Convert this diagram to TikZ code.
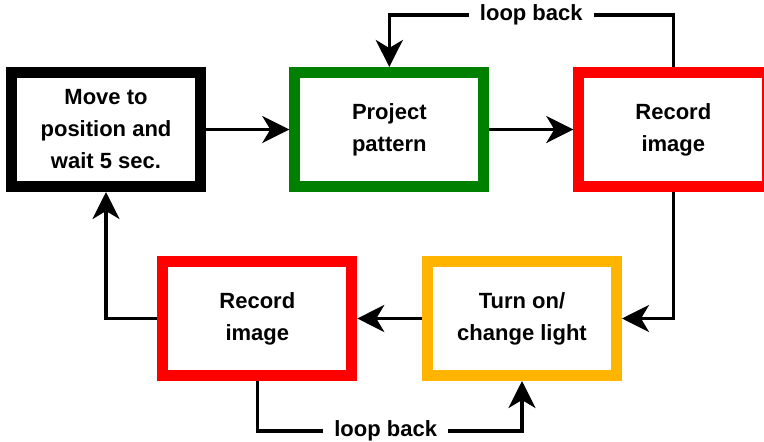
\documentclass[tikz,border=0pt]{standalone}
\usepackage{fontspec}
\setmainfont{Liberation Sans}
\usetikzlibrary{arrows.meta}
\definecolor{boxgreen}{RGB}{0,128,0}
\definecolor{boxred}{RGB}{255,0,0}
\definecolor{boxorange}{RGB}{255,181,0}
\tikzset{
  stepbox/.style={draw=#1, line width=11pt, fill=white, minimum width=189pt,
    minimum height=114pt, align=center, inner sep=0pt,
    font=\fontsize{22}{32}\selectfont\bfseries},
  flow/.style={line width=3.5pt, -{Stealth[length=27pt,width=27pt,inset=8pt]}},
  looplabel/.style={fill=white, inner xsep=11pt, inner ysep=2pt,
    font=\fontsize{22}{26}\selectfont\bfseries}
}
\begin{document}
\begin{tikzpicture}[x=1pt,y=-1pt]
\useasboundingbox (0,0) rectangle (764,442);
\clip (0,0) rectangle (764,442);

% process steps
\node[stepbox=black]     (move)    at (106,129.5)   {Move to\\position and\\wait 5 sec.};
\node[stepbox=boxgreen]  (project) at (389.3,129.5) {Project\\pattern};
\node[stepbox=boxred]    (rec1)    at (673.3,129.5) {Record\\image};
\node[stepbox=boxorange] (light)   at (522,318.5)   {Turn on/\\change light};
\node[stepbox=boxred]    (rec2)    at (257.3,318.5) {Record\\image};

% connectors
\draw[flow] (move.east) -- (project.west);
\draw[flow] (project.east) -- (rec1.west);
\draw[flow] (rec1.south) |- (light.east);
\draw[flow] (light.west) -- (rec2.east);
\draw[flow] (rec2.west) -| (move.south);

% loops
\draw[flow] (rec1.north) -- ++(0,-52) -| node[pos=0.25, looplabel] {loop back} (project.north);
\draw[flow] (rec2.south) -- ++(0,50) -| node[pos=0.25, looplabel, xshift=-4pt] {loop back} (light.south);
\end{tikzpicture}
\end{document}
